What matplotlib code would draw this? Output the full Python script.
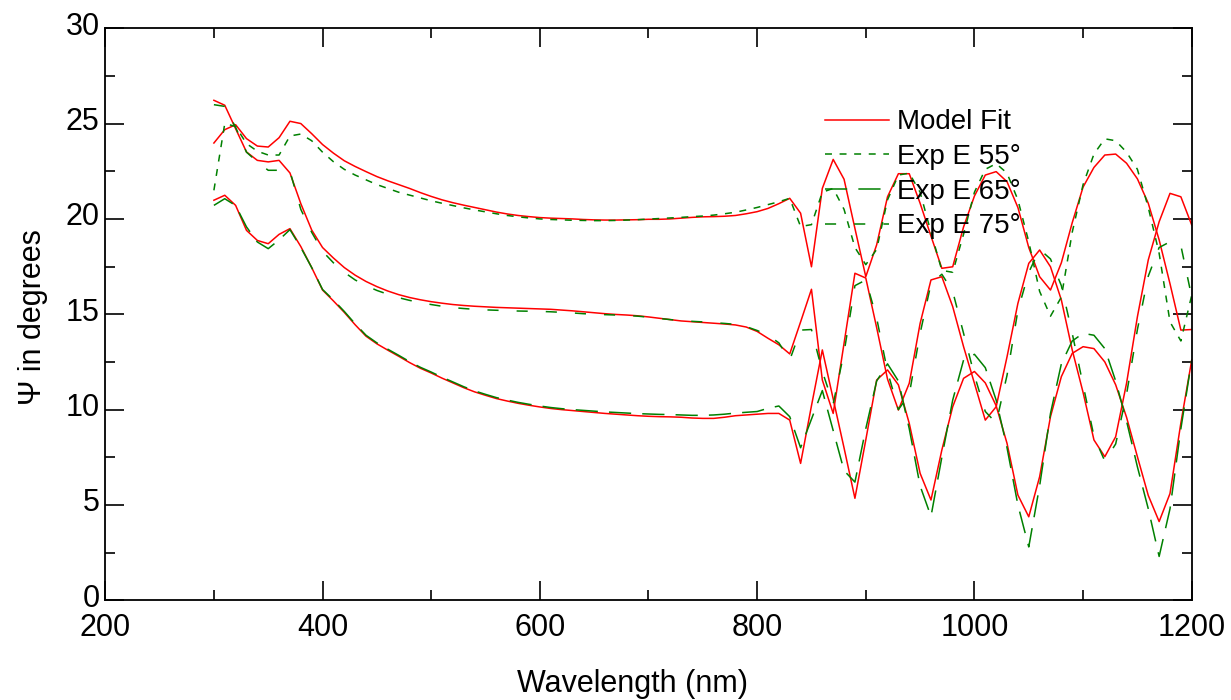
import matplotlib
matplotlib.use('Agg')
import matplotlib.pyplot as plt
from matplotlib.ticker import MultipleLocator
import matplotlib.transforms as mtransforms

plt.rcParams['font.family'] = ['Liberation Sans', 'DejaVu Sans']
plt.rcParams['lines.scale_dashes'] = False

wavelength = list(range(300, 1201, 10))

model_55 = [23.98, 24.68, 24.94, 24.21, 23.82, 23.77, 24.26, 25.12, 25.00, 24.47,
            23.90, 23.45, 23.05, 22.75, 22.48, 22.22, 22.00, 21.80, 21.60, 21.38,
            21.18, 21.00, 20.85, 20.72, 20.60, 20.48, 20.36, 20.26, 20.18, 20.12,
            20.07, 20.04, 20.02, 20.00, 19.97, 19.95, 19.94, 19.94, 19.95, 19.96,
            19.98, 19.98, 20.00, 20.04, 20.08, 20.11, 20.12, 20.14, 20.18, 20.27,
            20.38, 20.55, 20.80, 21.08, 20.30, 17.49, 21.60, 23.12, 22.08, 19.50,
            16.97, 18.64, 21.16, 22.37, 22.37, 20.82, 19.10, 17.41, 17.49, 19.58,
            21.20, 22.30, 22.48, 21.95, 20.60, 18.50, 16.97, 16.27, 17.70, 19.80,
            21.67, 22.70, 23.35, 23.40, 22.92, 22.10, 20.82, 18.90, 16.60, 14.17,
            14.20]

model_75 = [26.22, 25.96, 24.73, 23.51, 23.07, 22.99, 23.07, 22.41, 20.80, 19.42,
            18.50, 17.95, 17.45, 17.05, 16.72, 16.45, 16.22, 16.03, 15.88, 15.76,
            15.66, 15.58, 15.51, 15.46, 15.42, 15.39, 15.36, 15.34, 15.32, 15.30,
            15.28, 15.26, 15.22, 15.18, 15.13, 15.08, 15.03, 14.99, 14.96, 14.92,
            14.86, 14.79, 14.72, 14.65, 14.61, 14.57, 14.53, 14.49, 14.44, 14.33,
            14.10, 13.74, 13.40, 12.92, 14.60, 16.31, 11.55, 9.80, 13.48, 17.15,
            16.90, 14.30, 11.60, 9.98, 11.38, 14.52, 16.80, 16.97, 15.40, 13.30,
            11.38, 9.45, 10.15, 12.77, 15.57, 17.67, 18.37, 17.49, 15.75, 13.13,
            10.90, 8.41, 7.53, 8.58, 11.38, 14.87, 17.85, 19.85, 21.34, 21.16,
            19.68]

model_65 = [20.98, 21.24, 20.71, 19.40, 18.87, 18.70, 19.19, 19.49, 18.55, 17.45,
            16.27, 15.70, 15.10, 14.45, 13.85, 13.45, 13.12, 12.80, 12.47, 12.17,
            11.92, 11.65, 11.40, 11.15, 10.93, 10.75, 10.58, 10.45, 10.33, 10.23,
            10.14, 10.06, 10.00, 9.95, 9.90, 9.85, 9.80, 9.76, 9.72, 9.68,
            9.65, 9.63, 9.62, 9.60, 9.56, 9.54, 9.54, 9.60, 9.68, 9.72,
            9.76, 9.80, 9.80, 9.45, 7.18, 10.20, 13.13, 10.56, 7.99, 5.35,
            8.41, 11.55, 12.08, 11.30, 9.28, 6.66, 5.26, 7.88, 10.15, 11.64,
            12.00, 11.40, 10.20, 8.23, 5.52, 4.38, 6.48, 9.63, 11.73, 12.95,
            13.30, 13.20, 12.50, 11.30, 9.60, 7.53, 5.50, 4.13, 5.60, 9.30,
            12.60]

exp_55 = [21.50, 25.00, 24.85, 23.95, 23.55, 23.35, 23.35, 24.35, 24.45, 24.10,
          23.50, 23.00, 22.60, 22.30, 22.05, 21.80, 21.60, 21.40, 21.25, 21.10,
          20.95, 20.82, 20.70, 20.58, 20.47, 20.37, 20.27, 20.18, 20.11, 20.05,
          20.00, 19.97, 19.95, 19.93, 19.92, 19.91, 19.91, 19.92, 19.94, 19.96,
          19.99, 20.02, 20.05, 20.08, 20.12, 20.15, 20.20, 20.27, 20.35, 20.47,
          20.60, 20.75, 20.90, 21.08, 19.60, 19.70, 21.40, 21.60, 20.50, 18.50,
          17.60, 18.40, 21.00, 22.30, 22.40, 21.40, 19.30, 17.30, 17.20, 19.20,
          21.40, 22.60, 22.90, 22.40, 21.00, 18.80, 16.20, 14.90, 15.90, 19.30,
          21.80, 23.40, 24.20, 24.10, 23.50, 22.60, 20.60, 18.20, 14.60, 13.60,
          16.00]

exp_65 = [20.71, 21.06, 20.70, 19.58, 18.79, 18.44, 18.90, 19.44, 18.50, 17.45,
          16.30, 15.75, 15.15, 14.50, 13.90, 13.50, 13.17, 12.85, 12.52, 12.22,
          11.97, 11.70, 11.45, 11.20, 10.98, 10.80, 10.63, 10.50, 10.38, 10.28,
          10.19, 10.11, 10.05, 10.00, 9.96, 9.92, 9.88, 9.85, 9.82, 9.79,
          9.77, 9.75, 9.74, 9.72, 9.70, 9.70, 9.72, 9.76, 9.82, 9.86,
          9.90, 10.07, 10.19, 9.63, 8.00, 9.50, 11.00, 8.90, 6.80, 6.20,
          9.00, 11.50, 12.40, 11.50, 9.00, 6.00, 4.40, 7.50, 10.50, 12.60,
          12.90, 12.20, 10.50, 8.00, 5.00, 2.80, 6.00, 9.80, 12.40, 13.60,
          14.00, 13.90, 13.20, 11.50, 9.40, 7.00, 4.80, 2.30, 4.80, 9.00,
          12.60]

exp_75 = [25.99, 25.90, 24.80, 23.50, 22.99, 22.55, 22.55, 22.50, 20.50, 19.30,
          18.30, 17.70, 17.20, 16.80, 16.50, 16.25, 16.05, 15.87, 15.73, 15.61,
          15.51, 15.42, 15.35, 15.30, 15.26, 15.23, 15.21, 15.19, 15.17, 15.16,
          15.15, 15.13, 15.10, 15.07, 15.03, 15.00, 14.98, 14.96, 14.94, 14.90,
          14.85, 14.78, 14.72, 14.67, 14.63, 14.60, 14.56, 14.52, 14.47, 14.35,
          14.15, 13.90, 13.50, 12.60, 14.17, 14.20, 12.00, 10.30, 13.00, 16.50,
          16.80, 14.80, 12.00, 10.00, 10.80, 14.00, 16.60, 17.10, 16.20, 14.00,
          11.80, 9.90, 9.30, 11.80, 15.20, 17.20, 18.40, 17.90, 16.50, 14.00,
          11.30, 8.60, 7.30, 8.20, 10.80, 14.20, 17.00, 18.50, 18.80, 18.60,
          15.90]

legend_labels = ['Model Fit', 'Exp E 55\u00b0', 'Exp E 65\u00b0', 'Exp E 75\u00b0']

RED = '#ff0000'
GREEN = '#008000'

fig = plt.figure(figsize=(12.31, 7.0), dpi=100)
ax = fig.add_axes([0.0855, 0.1424, 0.8826, 0.8173])

lw = 1.1
h_model, = ax.plot(wavelength, model_55, color=RED, lw=lw, label=legend_labels[0])
ax.plot(wavelength, model_75, color=RED, lw=lw)
ax.plot(wavelength, model_65, color=RED, lw=lw)
h55, = ax.plot(wavelength, exp_55, color=GREEN, lw=lw, dashes=(5, 5.5), label=legend_labels[1])
h65, = ax.plot(wavelength, exp_65, color=GREEN, lw=lw, dashes=(16, 8), label=legend_labels[2])
h75, = ax.plot(wavelength, exp_75, color=GREEN, lw=lw, dashes=(8, 13), label=legend_labels[3])

ax.set_xlim(200, 1200)
ax.set_ylim(0, 30)
ax.xaxis.set_major_locator(MultipleLocator(200))
ax.xaxis.set_minor_locator(MultipleLocator(100))
ax.yaxis.set_major_locator(MultipleLocator(5))
ax.yaxis.set_minor_locator(MultipleLocator(2.5))

ax.tick_params(which='both', direction='in', top=True, right=True, width=1.2, color='black')
ax.tick_params(which='major', length=13.5)
ax.tick_params(which='minor', length=7)
ax.tick_params(axis='x', which='major', labelsize=22, pad=9)
ax.tick_params(axis='y', which='major', labelsize=22, pad=4)
for s in ax.spines.values():
    s.set_linewidth(1.3)

offset = mtransforms.ScaledTranslation(0, 0.05, fig.dpi_scale_trans)
for lab in ax.get_yticklabels():
    lab.set_transform(lab.get_transform() + offset)

ax.set_xlabel('Wavelength (nm)', fontsize=22)
ax.set_ylabel('\u03a8 in degrees', fontsize=22)
ax.xaxis.set_label_coords(0.485, -0.12)
ax.yaxis.set_label_coords(-0.0525, 0.495)

leg = ax.legend(handles=[h_model, h55, h65, h75], loc='upper left',
                bbox_to_anchor=(0.6625, 0.858), frameon=False, fontsize=20,
                handlelength=2.3, handletextpad=0.3, labelspacing=0.31,
                borderaxespad=0, borderpad=0)

fig.savefig('out.png', dpi=100)
